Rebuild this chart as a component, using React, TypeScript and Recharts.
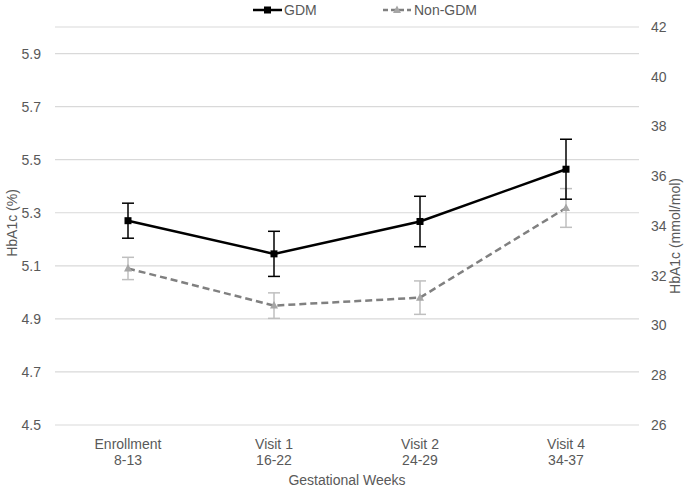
import React from 'react'
import {
    LineChart,
    Line,
    XAxis,
    YAxis,
    CartesianGrid,
    ErrorBar,
    Legend,
} from 'recharts'

const visits = ['Enrollment', 'Visit 1', 'Visit 2', 'Visit 4']
const weeks = ['8-13', '16-22', '24-29', '34-37']

const gdm = [5.27, 5.145, 5.267, 5.464]
const gdmErr = [0.066, 0.085, 0.095, 0.113]
const nonGdm = [5.09, 4.95, 4.98, 5.318]
const nonGdmErr = [0.042, 0.048, 0.063, 0.073]

const pctTicks = [4.5, 4.7, 4.9, 5.1, 5.3, 5.5, 5.7, 5.9]
const mmolTicks = [26, 28, 30, 32, 34, 36, 38, 40, 42]

const data = visits.map((v, i) => ({
    visit: v,
    weeks: weeks[i],
    gdm: gdm[i],
    gdmErr: gdmErr[i],
    nonGdm: nonGdm[i],
    nonGdmErr: nonGdmErr[i],
}))

const FONT = '"Liberation Sans", Arial, sans-serif'
const TXT = '#595959'
const FS = 14

const Square = (props: any) => {
    const { cx, cy } = props
    if (cx == null || cy == null) return null
    return <rect x={cx - 3.5} y={cy - 3.5} width={7} height={7} fill="#000" />
}

const Triangle = (props: any) => {
    const { cx, cy } = props
    if (cx == null || cy == null) return null
    return <path d={`M${cx},${cy - 4.5} L${cx + 4},${cy + 3} L${cx - 4},${cy + 3} Z`} fill="#a6a6a6" />
}

const VisitTick = (props: any) => {
    const { x, y, payload } = props
    const i = visits.indexOf(payload.value)
    return (
        <text x={x} y={y} textAnchor="middle" fill={TXT} fontSize={FS} fontFamily={FONT}>
            <tspan x={x} dy={16}>{payload.value}</tspan>
            <tspan x={x} dy={16}>{weeks[i]}</tspan>
        </text>
    )
}

// rotated axis title, placed by hand
const sideTitle = (text: string, x: number, y: number) => () => (
    <text
        x={x}
        y={y}
        transform={`rotate(-90, ${x}, ${y})`}
        textAnchor="middle"
        dominantBaseline="central"
        fill={TXT}
        fontSize={FS}
        fontFamily={FONT}
    >
        {text}
    </text>
)

const LegendBox = () => (
    <svg width={685} height={22}>
        <g fontFamily={FONT} fontSize={FS} fill={TXT}>
            <line x1={253} y1={10} x2={282} y2={10} stroke="#000" strokeWidth={2.5} />
            <rect x={264} y={6.5} width={7} height={7} fill="#000" />
            <text x={284} y={15}>GDM</text>
            <line x1={383} y1={10} x2={411} y2={10} stroke="#808080" strokeWidth={2.5} strokeDasharray="5 3" />
            <path d="M397,5.5 L401,13 L393,13 Z" fill="#a6a6a6" />
            <text x={414} y={15}>Non-GDM</text>
        </g>
    </svg>
)

const App = () => {
    return (
        <div style={{ position: 'absolute', left: 0, top: 0, background: '#fff' }}>
            <LineChart
                width={685}
                height={487}
                data={data}
                margin={{ top: 7, right: 16, bottom: 22, left: 15 }}
            >
                <Legend verticalAlign="top" height={20} content={<LegendBox />} wrapperStyle={{ top: 0, left: 0 }} />
                <CartesianGrid yAxisId="left" vertical={false} stroke="#d9d9d9" strokeWidth={1.2} />
                <XAxis
                    dataKey="visit"
                    axisLine={false}
                    tickLine={false}
                    height={40}
                    padding={{ left: 73, right: 73 }}
                    tick={<VisitTick />}
                    interval={0}
                    label={{ value: 'Gestational Weeks', position: 'insideBottom', offset: -20, fill: TXT, fontSize: FS, fontFamily: FONT }}
                />
                <YAxis
                    yAxisId="left"
                    domain={[4.5, 6.0]}
                    ticks={pctTicks}
                    width={40}
                    axisLine={false}
                    tickLine={false}
                    tickMargin={8}
                    tick={{ fill: TXT, fontSize: FS, fontFamily: FONT }}
                    tickFormatter={(v: number) => v.toFixed(1)}
                    label={{ content: sideTitle('HbA1c (%)', 12, 223) }}
                />
                <YAxis
                    yAxisId="right"
                    orientation="right"
                    domain={[26, 42]}
                    allowDataOverflow
                    ticks={mmolTicks}
                    width={30}
                    axisLine={false}
                    tickLine={false}
                    tickMargin={6}
                    tick={{ fill: TXT, fontSize: FS, fontFamily: FONT }}
                    label={{ content: sideTitle('HbA1c (mmol/mol)', 675, 236) }}
                />
                <Line yAxisId="right" dataKey="gdm" hide isAnimationActive={false} legendType="none" />
                <Line
                    yAxisId="left"
                    dataKey="nonGdm"
                    stroke="#808080"
                    strokeWidth={2.5}
                    strokeDasharray="7 4"
                    dot={<Triangle />}
                    activeDot={false}
                    isAnimationActive={false}
                >
                    <ErrorBar dataKey="nonGdmErr" width={6} stroke="#bfbfbf" strokeWidth={1.5} />
                </Line>
                <Line
                    yAxisId="left"
                    dataKey="gdm"
                    stroke="#000"
                    strokeWidth={2.5}
                    dot={<Square />}
                    activeDot={false}
                    isAnimationActive={false}
                >
                    <ErrorBar dataKey="gdmErr" width={6} stroke="#000" strokeWidth={1.5} />
                </Line>
            </LineChart>
        </div>
    )
}

export default App
